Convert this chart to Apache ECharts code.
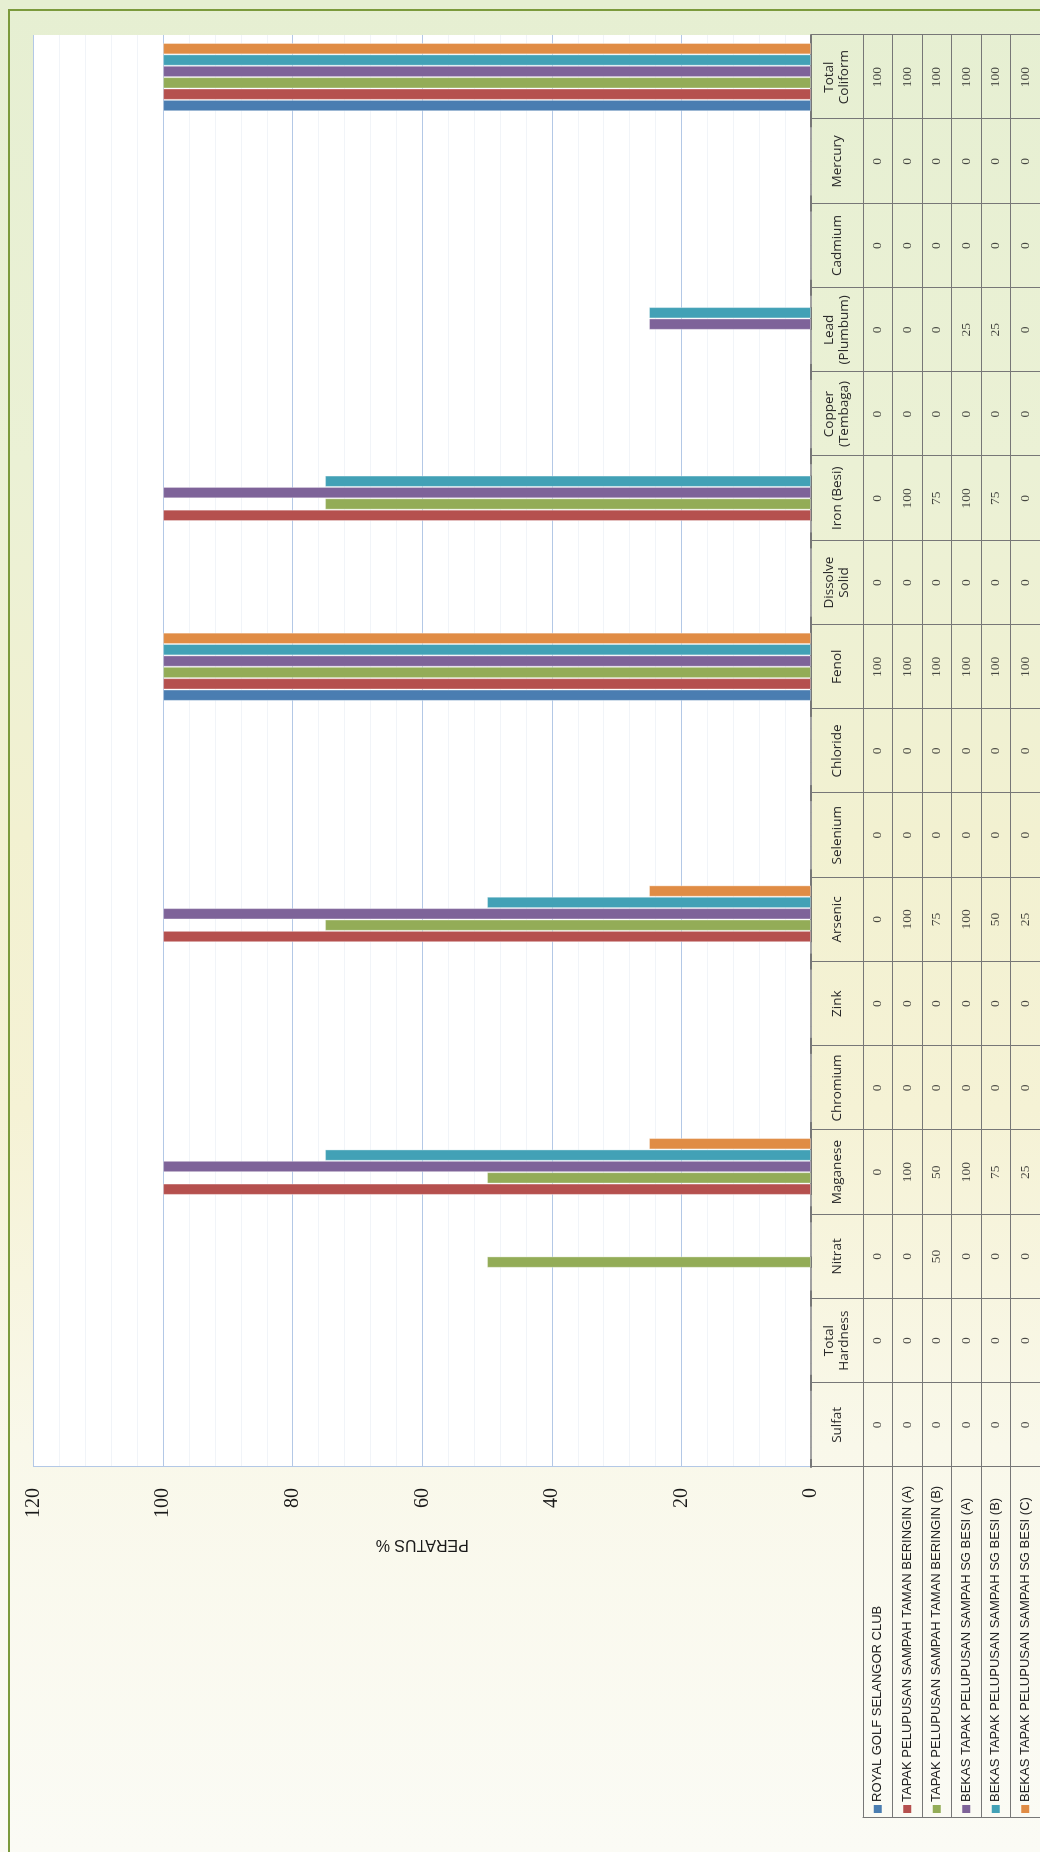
<!DOCTYPE html>
<html>
<head>
<meta charset="utf-8">
<title>Peratus</title>
<script src="https://cdn.jsdelivr.net/npm/echarts@6/dist/echarts.min.js"></script>
<style>
  html, body {
    margin: 0;
    padding: 0;
    width: 1040px;
    height: 1852px;
    overflow: hidden;
    background: linear-gradient(to bottom, #e6efd2 0%, #ebf1d5 25%, #f2f1d1 45%, #f5f2d5 60%, #f9f8ea 78%, #fbfbf5 100%);
  }
  /* the chart is laid out landscape and turned a quarter left */
  #wrap {
    position: absolute;
    left: 0;
    top: 0;
    width: 1852px;
    height: 1040px;
    transform-origin: 0 0;
    transform: translateY(1852px) rotate(-90deg);
  }
  #frame {
    position: absolute;
    left: -20px;
    top: 8px;
    width: 1863px;
    height: 1100px;
    box-sizing: border-box;
    border-top: 2px solid #7b9a3c;
    border-right: 2px solid #7b9a3c;
  }
  #chart {
    position: absolute;
    left: 0;
    top: 0;
    width: 1852px;
    height: 1040px;
  }
</style>
</head>
<body>
<div id="wrap">
  <div id="frame"></div>
  <div id="chart"></div>
</div>
<script>
// parameter (kategori)
var categories = [
  "Sulfat", "Total\nHardness", "Nitrat", "Maganese", "Chromium", "Zink",
  "Arsenic", "Selenium", "Chloride", "Fenol", "Dissolve\nSolid", "Iron (Besi)",
  "Copper\n(Tembaga)", "Lead\n(Plumbum)", "Cadmium", "Mercury", "Total\nColiform"
];

// lokasi (siri)
var seriesNames = [
  "ROYAL GOLF SELANGOR CLUB",
  "TAPAK PELUPUSAN SAMPAH TAMAN BERINGIN (A)",
  "TAPAK PELUPUSAN SAMPAH TAMAN BERINGIN (B)",
  "BEKAS TAPAK PELUPUSAN SAMPAH SG BESI (A)",
  "BEKAS TAPAK PELUPUSAN SAMPAH SG BESI (B)",
  "BEKAS TAPAK PELUPUSAN SAMPAH SG BESI (C)"
];

var royalGolf = [0, 0, 0, 0, 0, 0, 0, 0, 0, 100, 0, 0, 0, 0, 0, 0, 100];
var beringinA = [0, 0, 0, 100, 0, 0, 100, 0, 0, 100, 0, 100, 0, 0, 0, 0, 100];
var beringinB = [0, 0, 50, 50, 0, 0, 75, 0, 0, 100, 0, 75, 0, 0, 0, 0, 100];
var sgBesiA = [0, 0, 0, 100, 0, 0, 100, 0, 0, 100, 0, 100, 0, 25, 0, 0, 100];
var sgBesiB = [0, 0, 0, 75, 0, 0, 50, 0, 0, 100, 0, 75, 0, 25, 0, 0, 100];
var sgBesiC = [0, 0, 0, 25, 0, 0, 25, 0, 0, 100, 0, 0, 0, 0, 0, 0, 100];

var seriesValues = [royalGolf, beringinA, beringinB, sgBesiA, sgBesiB, sgBesiC];
var colors = ["#4a7db1", "#b5504e", "#93ac57", "#7e6399", "#42a1b6", "#e08c45"];

var yTicks = [0, 20, 40, 60, 80, 100, 120];

var tableLine = "#777777";
var gridBlue = "#b3c8e6";

var chart = echarts.init(document.getElementById("chart"), null, {
  width: 1852,
  height: 1040
});

// jadual data: satu titik per sel, nilai sebagai label
var cells = [];
seriesValues.forEach(function (vals, row) {
  vals.forEach(function (v, col) {
    cells.push([col, row, v]);
  });
});

// label legend dengan petak warna
var rich = { t: { fontSize: 13, fontFamily: "Liberation Sans", color: "#222", padding: [0, 0, 0, 3] } };
colors.forEach(function (c, i) {
  rich["s" + i] = { width: 8, height: 8, backgroundColor: c };
});

var bars = seriesNames.map(function (name, i) {
  return {
    name: name,
    type: "bar",
    xAxisIndex: 0,
    yAxisIndex: 0,
    data: seriesValues[i],
    barGap: "0%",
    barCategoryGap: "19%",
    itemStyle: { color: colors[i], borderColor: "rgba(255,255,255,0.35)", borderWidth: 1 },
    silent: true
  };
});

var option = {
  animation: false,
  backgroundColor: "transparent",
  grid: [
    // plot
    { left: 385, right: 35, top: 33.5, height: 777.5, show: true, backgroundColor: "#ffffff", borderWidth: 0 },
    // baris jadual
    { left: 385, right: 35, top: 863, height: 179 },
    // lajur legend
    { left: 34, width: 351, top: 863, height: 179 }
  ],
  xAxis: [
    {
      type: "category",
      gridIndex: 0,
      data: categories,
      axisLine: { lineStyle: { color: tableLine, width: 2 } },
      axisTick: { show: true, interval: 0, length: 52, lineStyle: { color: tableLine } },
      axisLabel: {
        interval: 0,
        margin: 26,
        verticalAlign: "middle",
        fontSize: 13.5,
        lineHeight: 15,
        fontFamily: "Open Sans",
        color: "#2a2a2a"
      },
      splitLine: { show: false }
    },
    {
      type: "category",
      gridIndex: 1,
      data: categories,
      axisLine: { show: false },
      axisTick: { show: false },
      axisLabel: { show: false },
      splitLine: { show: true, interval: 0, lineStyle: { color: tableLine } }
    },
    {
      type: "value",
      gridIndex: 2,
      show: false
    }
  ],
  yAxis: [
    {
      type: "value",
      gridIndex: 0,
      min: 0,
      max: 120,
      interval: 20,
      name: "PERATUS %",
      nameLocation: "middle",
      nameGap: 69,
      nameRotate: 90,
      nameTextStyle: { fontSize: 16, fontFamily: "Liberation Sans", color: "#1a1a1a" },
      axisLine: { show: true, lineStyle: { color: gridBlue } },
      axisTick: { show: false },
      axisLabel: {
        margin: 21,
        fontSize: 20,
        fontFamily: "Liberation Serif",
        color: "#1a1a1a",
        formatter: function (v) {
          return yTicks.indexOf(v) >= 0 ? String(v) : "";
        }
      },
      splitLine: { show: true, lineStyle: { color: gridBlue } },
      minorTick: { show: false, splitNumber: 5 },
      minorSplitLine: { show: true, lineStyle: { color: "#f1f4f8" } }
    },
    {
      type: "category",
      gridIndex: 1,
      inverse: true,
      data: seriesNames,
      axisLine: { show: false },
      axisTick: { show: false },
      axisLabel: { show: false },
      splitLine: { show: true, interval: 0, lineStyle: { color: tableLine } }
    },
    {
      type: "category",
      gridIndex: 2,
      inverse: true,
      data: seriesNames,
      axisLine: { show: true, lineStyle: { color: tableLine } },
      axisTick: { show: false },
      axisLabel: {
        inside: true,
        margin: 5,
        align: "left",
        formatter: function (v, i) {
          return "{s" + i + "|}{t|" + v + "}";
        },
        rich: rich
      },
      splitLine: { show: true, interval: 0, lineStyle: { color: tableLine } }
    }
  ],
  series: bars.concat([
    {
      name: "jadual",
      type: "scatter",
      xAxisIndex: 1,
      yAxisIndex: 1,
      data: cells,
      symbolSize: 1,
      itemStyle: { color: "rgba(0,0,0,0)" },
      silent: true,
      label: {
        show: true,
        position: "inside",
        formatter: function (p) {
          return String(p.value[2]);
        },
        fontSize: 13.5,
        fontFamily: "Liberation Serif",
        color: "#1a1a1a"
      }
    }
  ])
};

chart.setOption(option);
</script>
</body>
</html>
